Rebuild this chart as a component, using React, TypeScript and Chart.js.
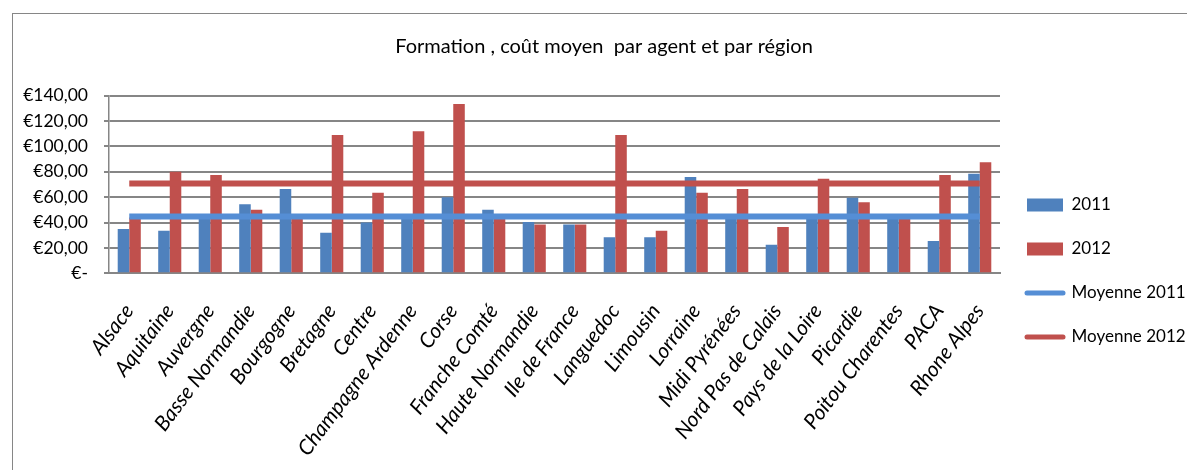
import React, { useEffect, useRef } from 'react';
import { Chart, registerables } from 'chart.js';

Chart.register(...registerables);

const categories = [
  'Alsace', 'Aquitaine', 'Auvergne', 'Basse Normandie', 'Bourgogne', 'Bretagne',
  'Centre', 'Champagne Ardenne', 'Corse', 'Franche Comté', 'Haute Normandie',
  'Ile de France', 'Languedoc', 'Limousin', 'Lorraine', 'Midi Pyrénées',
  'Nord Pas de Calais', 'Pays de la Loire', 'Picardie', 'Poitou Charentes', 'PACA', 'Rhone Alpes',
];

const values2011 = [35, 33.5, 45.5, 54.5, 66.5, 32, 40, 46, 60, 50, 40.5, 38.5, 28.5, 28.5, 76, 45.5, 22.5, 46, 59.5, 45.5, 25.5, 78.5];
const values2012 = [44, 80, 77.5, 50, 44, 109, 63.5, 112, 133.5, 44, 38.5, 38.5, 109, 33.5, 63.5, 66.5, 36.5, 74.5, 56, 44, 77.5, 87.5];

const mean2011 = 44.7;
const mean2012 = 70.7;

const yTickValues = [0, 20, 40, 60, 80, 100, 120, 140];

const seriesLabels = ['2011', '2012', 'Moyenne 2011', 'Moyenne 2012'];
const titleText = 'Formation , coût moyen  par agent et par région';

const formatEuro = (v: number) => (v === 0 ? '€-' : '€' + v.toFixed(2).replace('.', ','));

export default function App() {
  const canvasRef = useRef<HTMLCanvasElement | null>(null);

  useEffect(() => {
    const canvas = canvasRef.current;
    if (!canvas) return;
    const chart = new Chart(canvas, {
      type: 'bar',
      data: {
        labels: categories,
        datasets: [
          {
            type: 'bar',
            label: seriesLabels[0],
            data: values2011,
            backgroundColor: '#4F81BD',
            borderWidth: 0,
            categoryPercentage: 0.57,
            barPercentage: 1,
            order: 2,
          },
          {
            type: 'bar',
            label: seriesLabels[1],
            data: values2012,
            backgroundColor: '#C0504D',
            borderWidth: 0,
            categoryPercentage: 0.57,
            barPercentage: 1,
            order: 2,
          },
          {
            type: 'line',
            label: seriesLabels[2],
            data: categories.map(() => mean2011),
            borderColor: '#558ED5',
            backgroundColor: '#558ED5',
            borderWidth: 6,
            pointRadius: 0,
            borderCapStyle: 'butt',
            fill: false,
            order: 1,
          },
          {
            type: 'line',
            label: seriesLabels[3],
            data: categories.map(() => mean2012),
            borderColor: '#C0504D',
            backgroundColor: '#C0504D',
            borderWidth: 6,
            pointRadius: 0,
            borderCapStyle: 'butt',
            fill: false,
            order: 1,
          },
        ],
      } as any,
      options: {
        responsive: false,
        animation: false,
        layout: { padding: { left: 21, right: 0, top: 0, bottom: 0 } },
        plugins: {
          tooltip: { enabled: false },
          title: {
            display: true,
            text: titleText,
            color: '#000',
            font: { family: 'Lato', size: 20, weight: 'normal', lineHeight: 1.2 },
            padding: { top: 35, bottom: 36.7 },
          },
          legend: {
            display: true,
            position: 'right',
            align: 'start',
            maxWidth: 187,
            title: {
              display: true,
              text: '',
              font: { family: 'Lato', size: 10, lineHeight: 1.2 },
              padding: { top: 157.5, bottom: 0 },
            },
            labels: {
              usePointStyle: true,
              pointStyleWidth: 36,
              boxWidth: 36,
              boxHeight: 13,
              padding: 27,
              color: '#000',
              font: { family: 'Lato', size: 17 },
              generateLabels: (c: any) =>
                c.data.datasets.map((ds: any, i: number) => {
                  const isLine = ds.type === 'line';
                  const col = isLine ? ds.borderColor : ds.backgroundColor;
                  return {
                    text: ds.label,
                    fillStyle: col,
                    strokeStyle: col,
                    lineWidth: isLine ? 5 : 0,
                    lineCap: 'round',
                    pointStyle: isLine ? 'line' : 'rect',
                    datasetIndex: i,
                    hidden: false,
                    fontColor: '#000',
                  };
                }),
            },
          },
        },
        scales: {
          x: {
            offset: true,
            grid: { display: false, drawTicks: false },
            border: { display: true, color: '#868686', width: 2 },
            ticks: {
              autoSkip: false,
              minRotation: 53,
              maxRotation: 53,
              padding: 26,
              labelOffset: 0,
              color: '#000',
              font: { family: 'Lato', size: 21, style: 'italic' },
            },
            afterFit: (scale: any) => {
              scale.height = 470 - 273.3;
            },
          },
          y: {
            min: 0,
            max: 140,
            afterBuildTicks: (scale: any) => {
              scale.ticks = yTickValues.map((v) => ({ value: v }));
            },
            grid: { color: '#868686', lineWidth: 2, drawTicks: true, tickLength: 5 },
            border: { display: true, color: '#868686', width: 1.5 },
            ticks: {
              padding: 16,
              color: '#000',
              font: { family: 'Lato', size: 17.5 },
              callback: (v: any) => formatEuro(Number(v)),
            },
            afterFit: (scale: any) => {
              scale.width = 88;
            },
          },
        },
      } as any,
    });
    return () => chart.destroy();
  }, []);

  return (
    <div style={{ position: 'absolute', left: 0, top: 0, width: 1187, height: 470, overflow: 'hidden', background: '#fff' }}>
      <div
        style={{
          position: 'absolute',
          left: 12,
          top: 13,
          width: 1175,
          height: 457,
          borderTop: '1px solid #868686',
          borderLeft: '1px solid #868686',
          boxSizing: 'border-box',
        }}
      />
      <canvas ref={canvasRef} width={1187} height={470} style={{ position: 'absolute', left: 0, top: 0 }} />
    </div>
  );
}
